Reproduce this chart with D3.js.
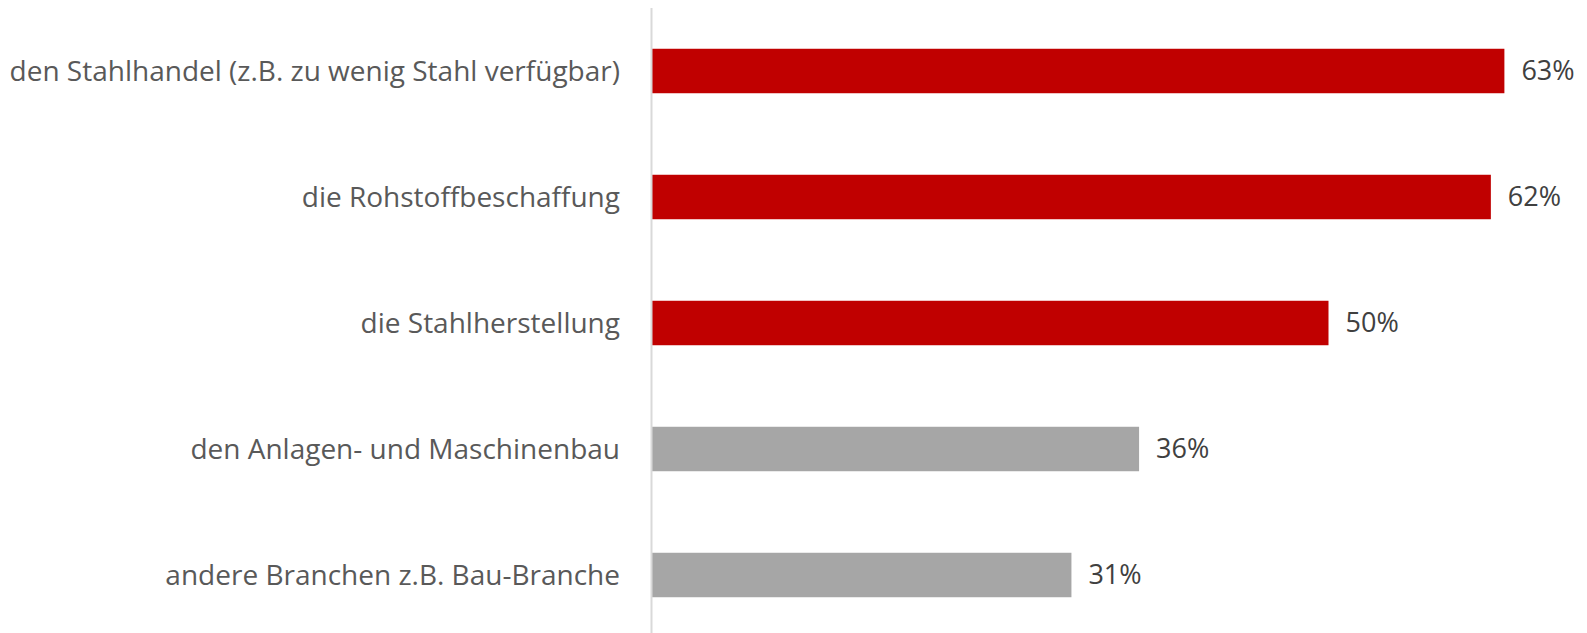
<!DOCTYPE html>
<html>
<head>
<meta charset="utf-8">
<script src="https://cdn.jsdelivr.net/npm/d3@7"></script>
<style>
  body { margin: 0; background: #fff; }
  text { font-family: "Open Sans", "Noto Sans", sans-serif; }
</style>
</head>
<body>
<script>
// data
let categories = [
    'den Stahlhandel (z.B. zu wenig Stahl verfügbar)',
    'die Rohstoffbeschaffung',
    'die Stahlherstellung',
    'den Anlagen- und Maschinenbau',
    'andere Branchen z.B. Bau-Branche'
]
let values = [63, 62, 50, 36, 31]
let highlight = [true, true, true, false, false]

let svgWidth = 1587
let svgHeight = 633

let svg = d3.select('body').append('svg')
            .attr('width', svgWidth)
            .attr('height', svgHeight)

// axis sits at x=652, bars scaled ~13.5px per percent
let margin = {top: 8, left: 652, right: 0, bottom: -5}
let innerHeight = svgHeight - margin.top - margin.bottom

let inner = svg.append('g')
               .attr('transform', 'translate(' + margin.left + ',' + margin.top + ')')

let xScale = d3.scaleLinear()
               .domain([0, 100])
               .range([0, 1353])

let yScale = d3.scaleBand()
               .domain(categories)
               .range([0, innerHeight])
               .paddingInner(0.647)
               .paddingOuter(0.3235)

let rows = categories.map((c, i) => ({cat: c, val: values[i], hi: highlight[i]}))

inner.selectAll('.bar')
     .data(rows)
     .join('rect')
     .classed('bar', true)
     .attr('x', 0)
     .attr('y', d => yScale(d.cat))
     .attr('height', yScale.bandwidth())
     .attr('width', d => xScale(d.val))
     .style('fill', d => d.hi ? '#C00000' : '#A6A6A6')

// vertical axis line
inner.append('line')
     .attr('x1', -0.5).attr('x2', -0.5)
     .attr('y1', 0).attr('y2', svgHeight)
     .style('stroke', '#D9D9D9')
     .style('stroke-width', 2)

// category labels
inner.selectAll('.cat-label')
     .data(rows)
     .join('text')
     .classed('cat-label', true)
     .attr('x', -32)
     .attr('y', d => yScale(d.cat) + yScale.bandwidth() / 2)
     .attr('dy', '0.35em')
     .attr('text-anchor', 'end')
     .style('font-size', '28px')
     .style('fill', '#595959')
     .text(d => d.cat)

// value labels
inner.selectAll('.val-label')
     .data(rows)
     .join('text')
     .classed('val-label', true)
     .attr('x', d => xScale(d.val) + 17)
     .attr('y', d => yScale(d.cat) + yScale.bandwidth() / 2)
     .attr('dy', '0.35em')
     .style('font-size', '27px')
     .style('fill', '#404040')
     .text(d => d.val + '%')
</script>
</body>
</html>
